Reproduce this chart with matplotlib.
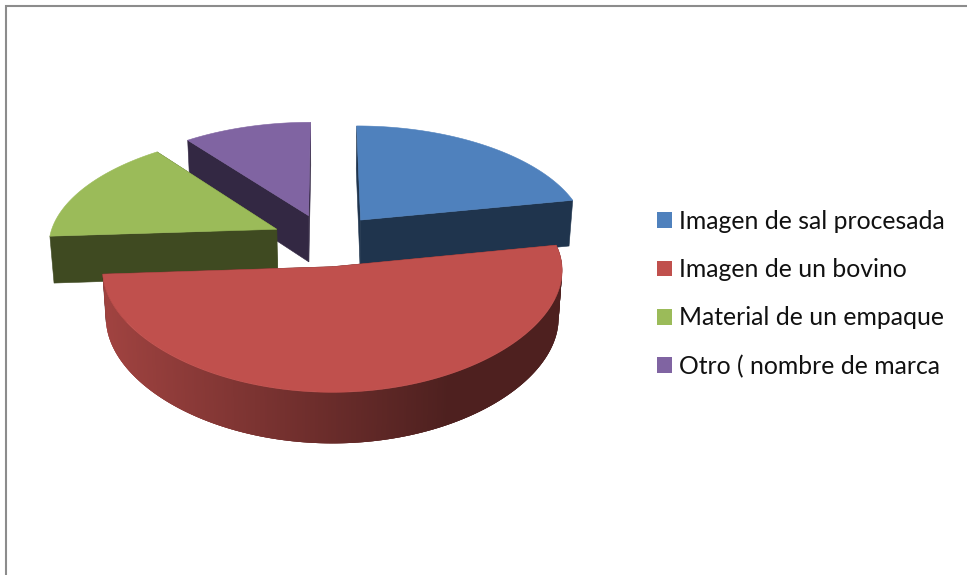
import numpy as np
import matplotlib
matplotlib.use("Agg")
import matplotlib.pyplot as plt
from matplotlib.colors import to_rgb
from matplotlib.patches import Patch

# Data
labels = ["Imagen de sal procesada", "Imagen de un bovino", "Material de un empaque", "Otro ( nombre de marca"]
values = [21, 50, 15, 10]
top_colors = ["#4f81bd", "#c0504d", "#9bbb59", "#8064a2"]
face_colors = ["#1f344d", "#4e1e1d", "#3f4a21", "#332843"]
draw_order = [3, 0, 2, 1]  # back slices first
nudge_x = [-1, -2, 0, -1]

# Layout of the fake 3D pie, in pixels
CX, CY = 327, 240
RX, RY = 228, 107.3
PERSP = 0.1
PERSP_X = 0.13
PERSP_X_FRONT = 0.03
EXPLODE = 0.245
DEPTH = 47


def project(u, v):
    """Ground plane point to screen, with some perspective."""
    sx = 1 / (1 + np.where(v > 0, PERSP_X, PERSP_X_FRONT) * v)
    sy = 1 / (1 + PERSP * v)
    return CX + RX * u * sx, CY - RY * v * sy


def drop(x, y, v):
    """Screen position of the same point on the bottom of the pie."""
    return CX + (x - CX) * 0.985, y + DEPTH * (1 - 0.07 * v)


def draw_slice(ax, start, end, top, face, nudge):
    mid = np.radians((start + end) / 2)
    ox, oy = EXPLODE * np.sin(mid), EXPLODE * np.cos(mid)
    th = np.radians(np.linspace(start, end, 300))
    u = ox + np.sin(th)
    v = oy + np.cos(th)
    x, y = project(u, v)
    ax_, ay_ = project(ox, oy)
    x = x + nudge
    ax_ = ax_ + nudge
    xb, yb = drop(x, y, v)
    axb, ayb = drop(ax_, ay_, oy)

    # Cut faces
    for i in (0, -1):
        ax.fill([ax_, x[i], xb[i], axb], [ay_, y[i], yb[i], ayb], color=face, lw=0.4)

    # Outer rim, shaded left to right, only on the slice facing us.
    # Quads overlap the next one so no seams show.
    if np.cos(mid) < 0:
        light = np.array(to_rgb(top)) * 0.84
        dark = np.array(to_rgb(top)) * 0.405
        for i in range(len(th) - 1):
            j = min(i + 3, len(th) - 1)
            t = np.clip((np.sin(th[i]) + 1) / 1.5, 0, 1)
            col = light * (1 - t) + dark * t
            ax.fill([x[i], x[j], xb[j], xb[i]], [y[i], y[j], yb[j], yb[i]], color=col, lw=0)

    # Top
    ax.fill(np.r_[ax_, x], np.r_[ay_, y], color=top, lw=0.4)


fig = plt.figure(figsize=(9.67, 5.75), dpi=100)
ax = fig.add_axes([0, 0, 1, 1])
ax.set_xlim(0, 967)
ax.set_ylim(575, 0)
ax.axis("off")

# Chart border, only left and top are in the picture
ax.plot([6, 6, 967], [575, 6, 6], color="#8c8c8c", lw=1.5, solid_joinstyle="miter")

edges = np.r_[0, np.cumsum(values)] / sum(values) * 360
for i in draw_order:
    draw_slice(ax, edges[i], edges[i + 1], top_colors[i], face_colors[i], nudge_x[i])

handles = [Patch(facecolor=c, edgecolor="none") for c in top_colors]
ax.legend(handles, labels, loc="upper left", bbox_to_anchor=(657, 210), bbox_transform=ax.transData,
          frameon=False, borderpad=0, borderaxespad=0, handlelength=0.61, handleheight=0.61,
          handletextpad=0.28, labelspacing=1.02, prop={"family": "Lato", "size": 17.8}, labelcolor="#111111")

fig.savefig("out.png", dpi=100)
